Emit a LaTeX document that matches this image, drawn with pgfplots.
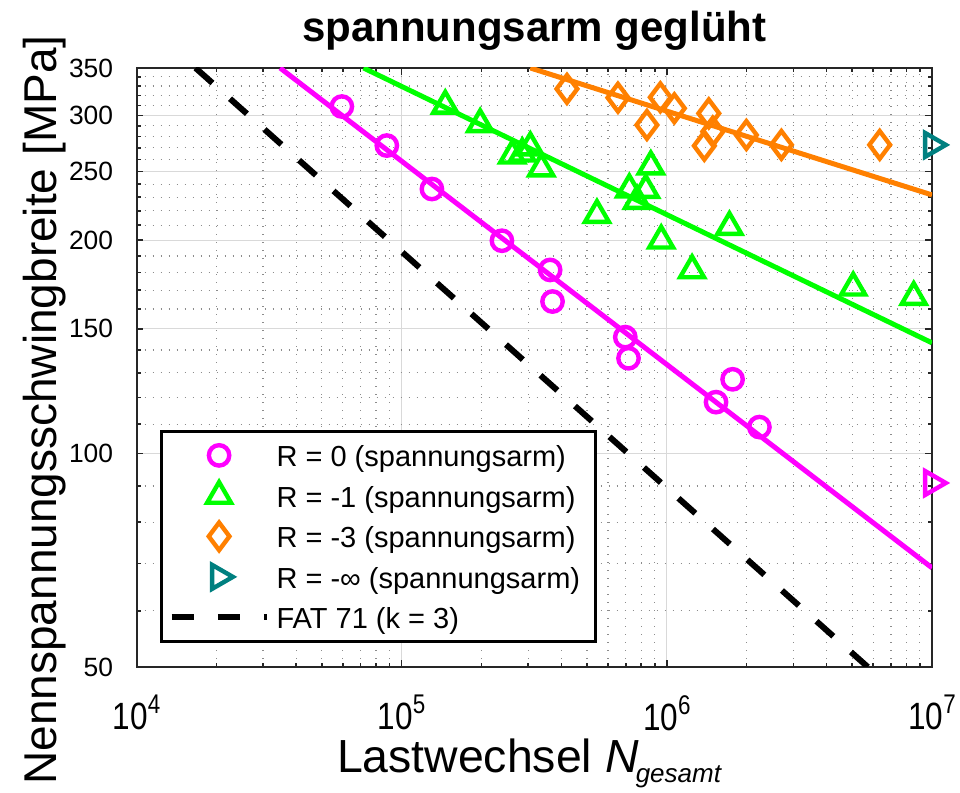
\documentclass[border=0pt]{standalone}
\usepackage{pgfplots}
\pgfplotsset{compat=1.18}
\usepackage{fontspec}
\setmainfont{Liberation Sans}
\usetikzlibrary{calc}

\definecolor{axgray}{RGB}{38,38,38}
\definecolor{rzero}{RGB}{255,0,255}
\definecolor{rminus}{RGB}{0,255,0}
\definecolor{rthree}{RGB}{255,128,0}
\definecolor{rinf}{RGB}{0,128,128}

% decade tick label 10^n
\newcommand{\decade}[1]{\scalebox{0.83}[1]{\fontsize{19}{19}\selectfont 10\raisebox{7.9pt}{\fontsize{13.5}{13.5}\selectfont #1}}}
% stress tick label
\newcommand{\ytl}[1]{{\fontsize{13.2}{13.2}\selectfont #1}}

% legend pictures: marker in the middle of a 47.5pt slot, or a plain line
\pgfplotsset{
  markslot/.style={legend image code/.code={\draw[mark repeat=2,mark phase=2,##1] plot coordinates {(0pt,0pt) (23.75pt,0pt) (47.5pt,0pt)};}},
  lineslot/.style={legend image code/.code={\draw[##1] (0pt,0pt) -- (47.5pt,0pt);}},
}

\begin{document}
\begin{tikzpicture}
\begin{axis}[
  scale only axis, width=397.75pt, height=299.5pt,
  xmode=log, ymode=log,
  xmin=1e4, xmax=1e7, ymin=50, ymax=350,
  axis line style={axgray, line width=1pt},
  tick style={axgray, line width=0.8pt},
  tick align=inside,
  major tick length=3.5pt, minor tick length=2.2pt,
  xtick={1e4,1e5,1e6,1e7},
  xticklabels={\decade{4},\decade{5},\decade{6},\decade{7}},
  minor xtick={2e4,3e4,4e4,5e4,6e4,7e4,8e4,9e4,2e5,3e5,4e5,5e5,6e5,7e5,8e5,9e5,2e6,3e6,4e6,5e6,6e6,7e6,8e6,9e6},
  ytick={50,100,150,200,250,300,350},
  yticklabels={\ytl{50},\ytl{100},\ytl{150},\ytl{200},\ytl{250},\ytl{300},\ytl{350}},
  minor ytick={60,70,80,90,110,120,130,140,160,170,180,190,210,220,230,240,260,270,280,290,310,320,330,340},
  grid=both,
  major grid style={black!15, line width=0.5pt},
  minor grid style={black!45, line width=0.6pt, dash pattern=on 0.6pt off 3.4pt},
  yticklabel style={anchor=east, inner sep=0pt},
  yticklabel shift=11.5pt,
  xticklabel style={anchor=north, inner sep=0pt},
  xticklabel shift=14pt,
  title={spannungsarm geglüht},
  title style={font=\bfseries\fontsize{21}{21}\selectfont, at={(0.5,1)}, anchor=base, yshift=7pt},
  xlabel={Lastwechsel \textit{N}\hspace{-1.5pt}{\fontsize{13}{13}\selectfont\itshape\raisebox{-5pt}{gesamt}}},
  xlabel style={font=\fontsize{23.2}{23.2}\selectfont, at={(0.4934,0)}, anchor=base, yshift=-53pt},
  ylabel={Nennspannungsschwingbreite [MPa]},
  ylabel style={font=\fontsize{23}{23}\selectfont, at={(-0.1012,0.429)}, anchor=base},
  legend style={
    at={(0.0295,0.040)}, anchor=south west,
    draw=black, line width=1.6pt, fill=white,
    font=\fontsize{14.5}{14.5}\selectfont,
    inner xsep=3.5pt, inner ysep=1.9pt,
    row sep=0pt, column sep=3.5pt,
    nodes={inner sep=0pt, text height=15.8pt, text depth=4.45pt},
  },
  legend cell align=left,
  markslot,
]
\coordinate (SW) at (rel axis cs:0,0);
\coordinate (NE) at (rel axis cs:1,1);

% fitted S-N curves
\addplot[rzero, line width=2.5pt, forget plot] coordinates {(34800,350) (1e7,69.0)};
\addplot[rminus, line width=2.5pt, forget plot] coordinates {(71800,350) (1e7,143.3)};
\addplot[rthree, line width=2.5pt, forget plot] coordinates {(305600,350) (1e7,231.7)};

% R = 0
\addplot[only marks, rzero, mark=o, mark size=5.1pt, mark options={solid, line width=2.2pt}] coordinates {
 (59500,308.8) (87900,272.0) (130000,236.2) (238800,199.7) (363000,181.6)
 (370600,163.9) (697000,146.0) (717000,136.3) (1770000,127.3) (1533000,118.2)
 (2234000,109.0)
};
\addlegendentry{R = 0 (spannungsarm)}

% R = -1
\addplot[only marks, rminus, mark=triangle, mark size=6.9pt, mark options={solid, line width=2.2pt}] coordinates {
 (146000,309.6) (197700,291.5) (261000,263.3) (285000,265.0) (305600,270.3)
 (336000,252.5) (545000,217.1) (722000,235.9) (772000,227.2) (833000,235.5)
 (870000,254.2) (952000,199.8) (1245000,181.4) (1722000,208.8) (5043000,171.5)
 (8530000,166.3)
};
\addlegendentry{R = -1 (spannungsarm)}

% R = -3
\addplot[only marks, rthree, mark=diamond, mark size=6.9pt, mark options={solid, line width=2.2pt}] coordinates {
 (420000,327.0) (654000,317.8) (841000,290.8) (945000,318.2) (1067000,307.0)
 (1439000,302.0) (1490000,284.6) (1385000,271.8) (1995000,281.5) (2704000,272.6)
 (6350000,272.6)
};
\addlegendentry{R = -3 (spannungsarm)}

% R = -inf (run-out)
\addplot[only marks, rinf, mark=triangle, mark size=6.9pt, mark options={solid, rotate=-90, line width=2.2pt}] coordinates {
 (1e7,272.6)
};
\addlegendentry{R = -∞ (spannungsarm)\rule{4pt}{0pt}}

% FAT 71 design curve, k = 3
\addplot[black, line width=3pt, dash pattern=on 11.3pt off 11.8pt, lineslot] coordinates {(16697,350) (5726000,50)};
\addlegendentry{FAT 71 (k = 3)}

% run-out at R = 0
\addplot[only marks, rzero, mark=triangle, mark size=6.9pt, mark options={solid, rotate=-90, line width=2.2pt}, forget plot] coordinates {
 (1e7,90.9)
};
\end{axis}
\pgfresetboundingbox
\path[use as bounding box] ($(SW)+(-68.25pt,-62.5pt)$) rectangle ($(NE)+(14pt,34pt)$);
\end{tikzpicture}
\end{document}
